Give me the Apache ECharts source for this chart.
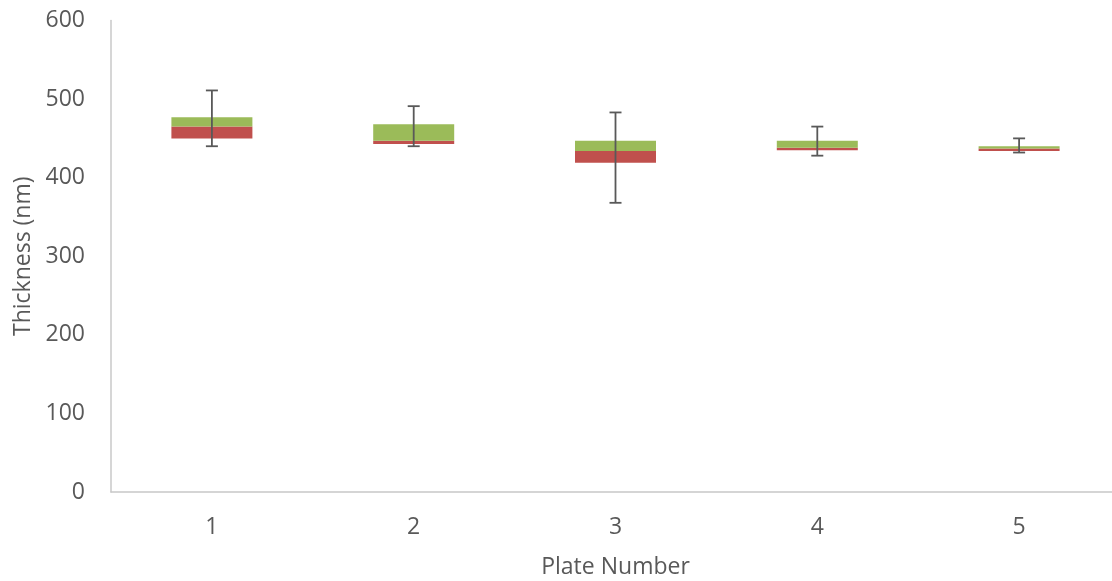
<!DOCTYPE html>
<html>
<head>
<meta charset="utf-8">
<script src="https://cdn.jsdelivr.net/npm/echarts@6/dist/echarts.min.js"></script>
<style>html,body{margin:0;padding:0;background:#fff;overflow:hidden;}#c{width:1122px;height:581px;}</style>
</head>
<body>
<div id="c"></div>
<script>
var categories = ['1', '2', '3', '4', '5'];
var q1 = [450, 443, 419, 435, 434];
var median = [465, 447, 434, 438, 437];
var q3 = [477, 468, 447, 447, 440];
var lowWhisker = [440, 440, 368, 428, 432];
var highWhisker = [511, 491, 483, 465, 450];
var yTicks = [0, 100, 200, 300, 400, 500, 600];

var redPart = median.map(function (m, i) { return m - q1[i]; });
var greenPart = q3.map(function (q, i) { return q - median[i]; });
var whiskerData = categories.map(function (c, i) { return [i, lowWhisker[i], highWhisker[i]]; });

var chart = echarts.init(document.getElementById('c'), null, {renderer: 'canvas'});
var font = '"Open Sans", "DejaVu Sans", sans-serif';
chart.setOption({
  animation: false,
  backgroundColor: '#ffffff',
  grid: {left: 111, right: 2, top: 20.5, bottom: 89, containLabel: false, outerBoundsMode: 'none'},
  xAxis: {
    type: 'category',
    data: categories,
    name: 'Plate Number',
    nameLocation: 'middle',
    nameGap: 64,
    nameTextStyle: {color: '#595959', fontSize: 23, fontFamily: font},
    axisLine: {lineStyle: {color: '#c8c8c8', width: 1.5}},
    axisTick: {show: false},
    axisLabel: {color: '#595959', fontSize: 23, fontFamily: font, margin: 24}
  },
  yAxis: {
    type: 'value',
    min: yTicks[0],
    max: yTicks[yTicks.length - 1],
    interval: 100,
    name: 'Thickness (nm)',
    nameLocation: 'middle',
    nameGap: 76,
    nameTextStyle: {color: '#595959', fontSize: 23, fontFamily: font},
    axisLine: {show: true, lineStyle: {color: '#c8c8c8', width: 1.5}},
    axisTick: {show: false},
    splitLine: {show: false},
    axisLabel: {color: '#595959', fontSize: 23, fontFamily: font, margin: 26}
  },
  series: [
    {type: 'bar', stack: 'box', data: q1, barWidth: 81, itemStyle: {color: 'rgba(0,0,0,0)'}, silent: true},
    {type: 'bar', stack: 'box', data: redPart, itemStyle: {color: '#C0504D'}},
    {type: 'bar', stack: 'box', data: greenPart, itemStyle: {color: '#9BBB59'}},
    {
      type: 'custom',
      data: whiskerData,
      z: 10,
      renderItem: function (params, api) {
        var x = api.value(0);
        var lo = api.coord([x, api.value(1)]);
        var hi = api.coord([x, api.value(2)]);
        var cw = 6;
        var style = {stroke: '#595959', lineWidth: 1.8};
        return {
          type: 'group',
          children: [
            {type: 'line', shape: {x1: lo[0], y1: lo[1], x2: hi[0], y2: hi[1]}, style: style},
            {type: 'line', shape: {x1: lo[0] - cw, y1: lo[1], x2: lo[0] + cw, y2: lo[1]}, style: style},
            {type: 'line', shape: {x1: hi[0] - cw, y1: hi[1], x2: hi[0] + cw, y2: hi[1]}, style: style}
          ]
        };
      }
    }
  ]
});
</script>
</body>
</html>
